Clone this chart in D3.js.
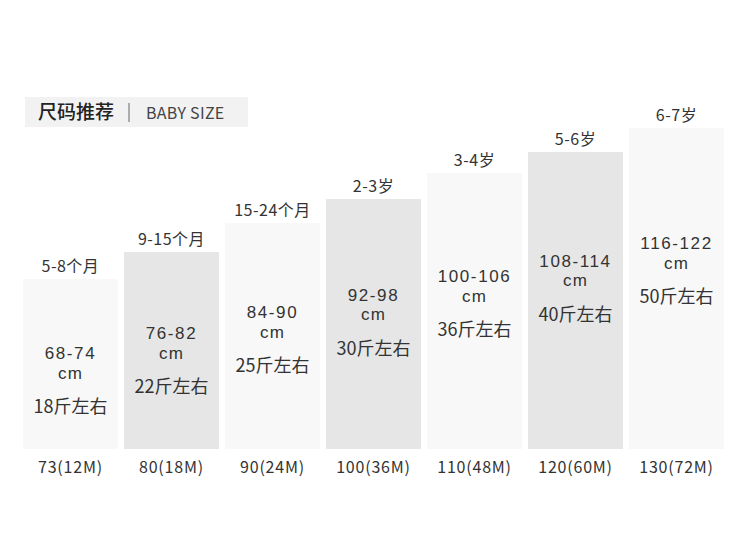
<!DOCTYPE html>
<html>
<head>
<meta charset="utf-8">
<script src="https://cdn.jsdelivr.net/npm/d3@7"></script>
<style>
  body { margin: 0; background: #fff; }
  text { font-family: "Noto Sans CJK SC", "Noto Sans", sans-serif; fill: #333; }
  .lat { font-family: "Liberation Sans", Arial, sans-serif; }
</style>
</head>
<body>
<script>
// data
const sizes = ["73(12M)", "80(18M)", "90(24M)", "100(36M)", "110(48M)", "120(60M)", "130(72M)"];
const ages = ["5-8个月", "9-15个月", "15-24个月", "2-3岁", "3-4岁", "5-6岁", "6-7岁"];
const heightRanges = ["68-74", "76-82", "84-90", "92-98", "100-106", "108-114", "116-122"];
const weights = [18, 22, 25, 30, 36, 40, 50];
const barValues = [170, 197, 226, 250, 276, 297, 321];

const width = 750, height = 540;
const bottom = 449;

const svg = d3.select("body")
  .append("svg")
  .attr("width", width)
  .attr("height", height);

const x = d3.scaleBand()
  .domain(sizes)
  .range([23, 724])
  .paddingInner(0.06)
  .paddingOuter(0);

const y = d3.scaleLinear()
  .domain([0, 321])
  .range([bottom, 128]);

// title box
const title = svg.append("g");
title.append("rect")
  .attr("x", 25).attr("y", 97)
  .attr("width", 223).attr("height", 30)
  .attr("fill", "#f2f2f2");
title.append("text")
  .attr("x", 38).attr("y", 119)
  .style("font-size", "19px")
  .style("font-weight", 500)
  .style("fill", "#222")
  .text("尺码推荐");
title.append("line")
  .attr("x1", 129).attr("x2", 129)
  .attr("y1", 103).attr("y2", 122)
  .attr("stroke", "#666").attr("stroke-width", 1);
title.append("text")
  .attr("x", 146).attr("y", 119)
  .style("font-size", "16px")
  .style("letter-spacing", "0.3px")
  .style("fill", "#444")
  .text("BABY SIZE");

// bars
const cols = svg.selectAll(".col")
  .data(sizes)
  .enter()
  .append("g")
  .attr("class", "col");

cols.append("rect")
  .attr("x", d => x(d))
  .attr("y", (d, i) => y(barValues[i]))
  .attr("width", x.bandwidth())
  .attr("height", (d, i) => bottom - y(barValues[i]))
  .attr("fill", (d, i) => i % 2 ? "#e6e6e6" : "#f8f8f8");

const cx = d => x(d) + x.bandwidth() / 2;

// age label above each bar
cols.append("text")
  .attr("x", cx)
  .attr("y", (d, i) => y(barValues[i]) - 7)
  .attr("text-anchor", "middle")
  .style("font-size", "16px")
  .style("letter-spacing", "0.5px")
  .text((d, i) => ages[i]);

// text block inside bar
const textTop = i => 149 + 0.728 * y(barValues[i]) + 7;

cols.append("text")
  .attr("class", "lat")
  .attr("x", cx)
  .attr("y", (d, i) => textTop(i))
  .attr("text-anchor", "middle")
  .style("font-size", "17px")
  .style("letter-spacing", "1.6px")
  .text((d, i) => heightRanges[i]);

cols.append("text")
  .attr("class", "lat")
  .attr("x", cx)
  .attr("y", (d, i) => textTop(i) + 19.6)
  .attr("text-anchor", "middle")
  .style("font-size", "17px")
  .style("letter-spacing", "1.2px")
  .text("cm");

cols.append("text")
  .attr("x", cx)
  .attr("y", (d, i) => textTop(i) + 54)
  .attr("text-anchor", "middle")
  .style("font-size", "18px")
  .text((d, i) => weights[i] + "斤左右");

// size labels under bars
cols.append("text")
  .attr("x", cx)
  .attr("y", 473)
  .attr("text-anchor", "middle")
  .style("font-size", "16px")
  .style("letter-spacing", "0.8px")
  .text(d => d);
</script>
</body>
</html>
